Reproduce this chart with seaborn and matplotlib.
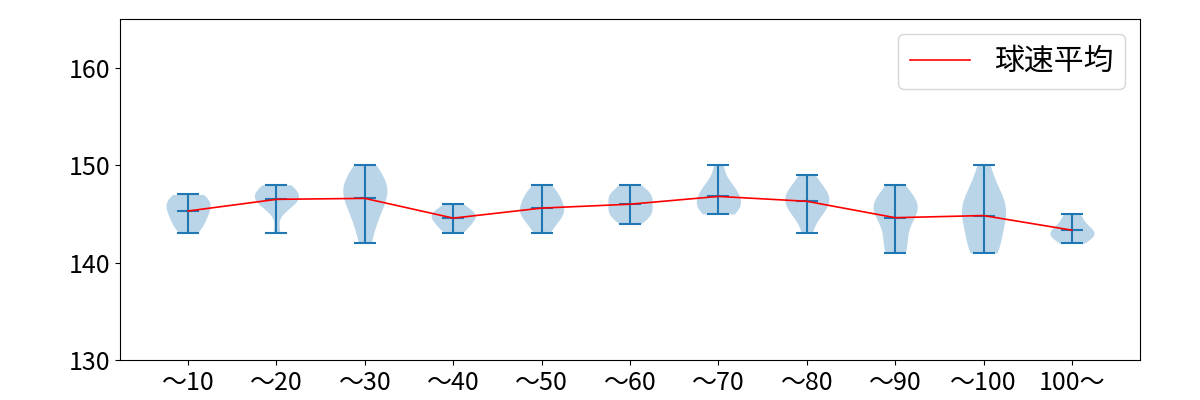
import matplotlib
matplotlib.use("Agg")
import matplotlib.pyplot as plt
import seaborn as sns
import numpy as np
import pandas as pd

plt.rcParams['font.family'] = ['Noto Sans CJK JP', 'DejaVu Sans']

categories = ["〜10", "〜20", "〜30", "〜40", "〜50", "〜60", "〜70", "〜80", "〜90", "〜100", "100〜"]
speeds_10 = [143, 144, 145, 146, 146, 147, 147, 145, 144, 146]
speeds_20 = [148, 147, 147, 147, 146, 146, 146, 147, 148, 143]
speeds_30 = [150, 149, 148, 148, 147, 146, 145, 144, 142, 147]
speeds_40 = [143, 144, 145, 145, 146, 144, 145]
speeds_50 = [143, 144, 145, 145, 145, 146, 146, 147, 148, 147]
speeds_60 = [144, 145, 146, 147, 147, 148, 146, 145, 147, 145]
speeds_70 = [145, 146, 146, 147, 147, 146, 150, 148, 145, 148]
speeds_80 = [143, 145, 146, 146, 147, 147, 147, 148, 149, 145]
speeds_90 = [141, 141, 142, 143, 144, 145, 145, 146, 146, 146, 146, 147, 148]
speeds_100 = [141, 141, 142, 143, 144, 145, 145, 146, 146, 147, 148, 150]
speeds_over = [142, 143, 143, 143, 144, 145]
legend_label = "球速平均"
yticks = [130, 140, 150, 160]

groups = [speeds_10, speeds_20, speeds_30, speeds_40, speeds_50, speeds_60,
          speeds_70, speeds_80, speeds_90, speeds_100, speeds_over]
df = pd.DataFrame({
    "cat": np.repeat(categories, [len(g) for g in groups]),
    "speed": np.concatenate(groups),
})

fig, ax = plt.subplots(figsize=(12, 4), dpi=100)
fig.subplots_adjust(left=0.1, right=0.95, bottom=0.1, top=0.952)

sns.violinplot(data=df, x="cat", y="speed", order=categories, ax=ax,
               cut=0, bw_method="scott", density_norm="width", width=0.5,
               inner=None, color="C0", saturation=1, linewidth=0, alpha=0.3)

pos = np.arange(len(categories))
mins = np.array([min(g) for g in groups])
maxs = np.array([max(g) for g in groups])
means = np.array([np.mean(g) for g in groups])
ax.vlines(pos, mins, maxs, color="C0", lw=1.5)
ax.hlines(mins, pos - 0.125, pos + 0.125, color="C0", lw=1.5)
ax.hlines(maxs, pos - 0.125, pos + 0.125, color="C0", lw=1.5)
ax.hlines(means, pos - 0.125, pos + 0.125, color="C0", lw=1.5)

sns.lineplot(x=pos, y=means, ax=ax, color="red", lw=1.2, label=legend_label)

ax.set_xlim(-0.77, len(categories) - 0.23)
ax.set_ylim(130, 165)
ax.set_yticks(yticks)
ax.set_xlabel("")
ax.set_ylabel("")
ax.tick_params(labelsize=18)
ax.legend(loc="upper right", fontsize=21.5)

fig.savefig("out.png", dpi=100)
